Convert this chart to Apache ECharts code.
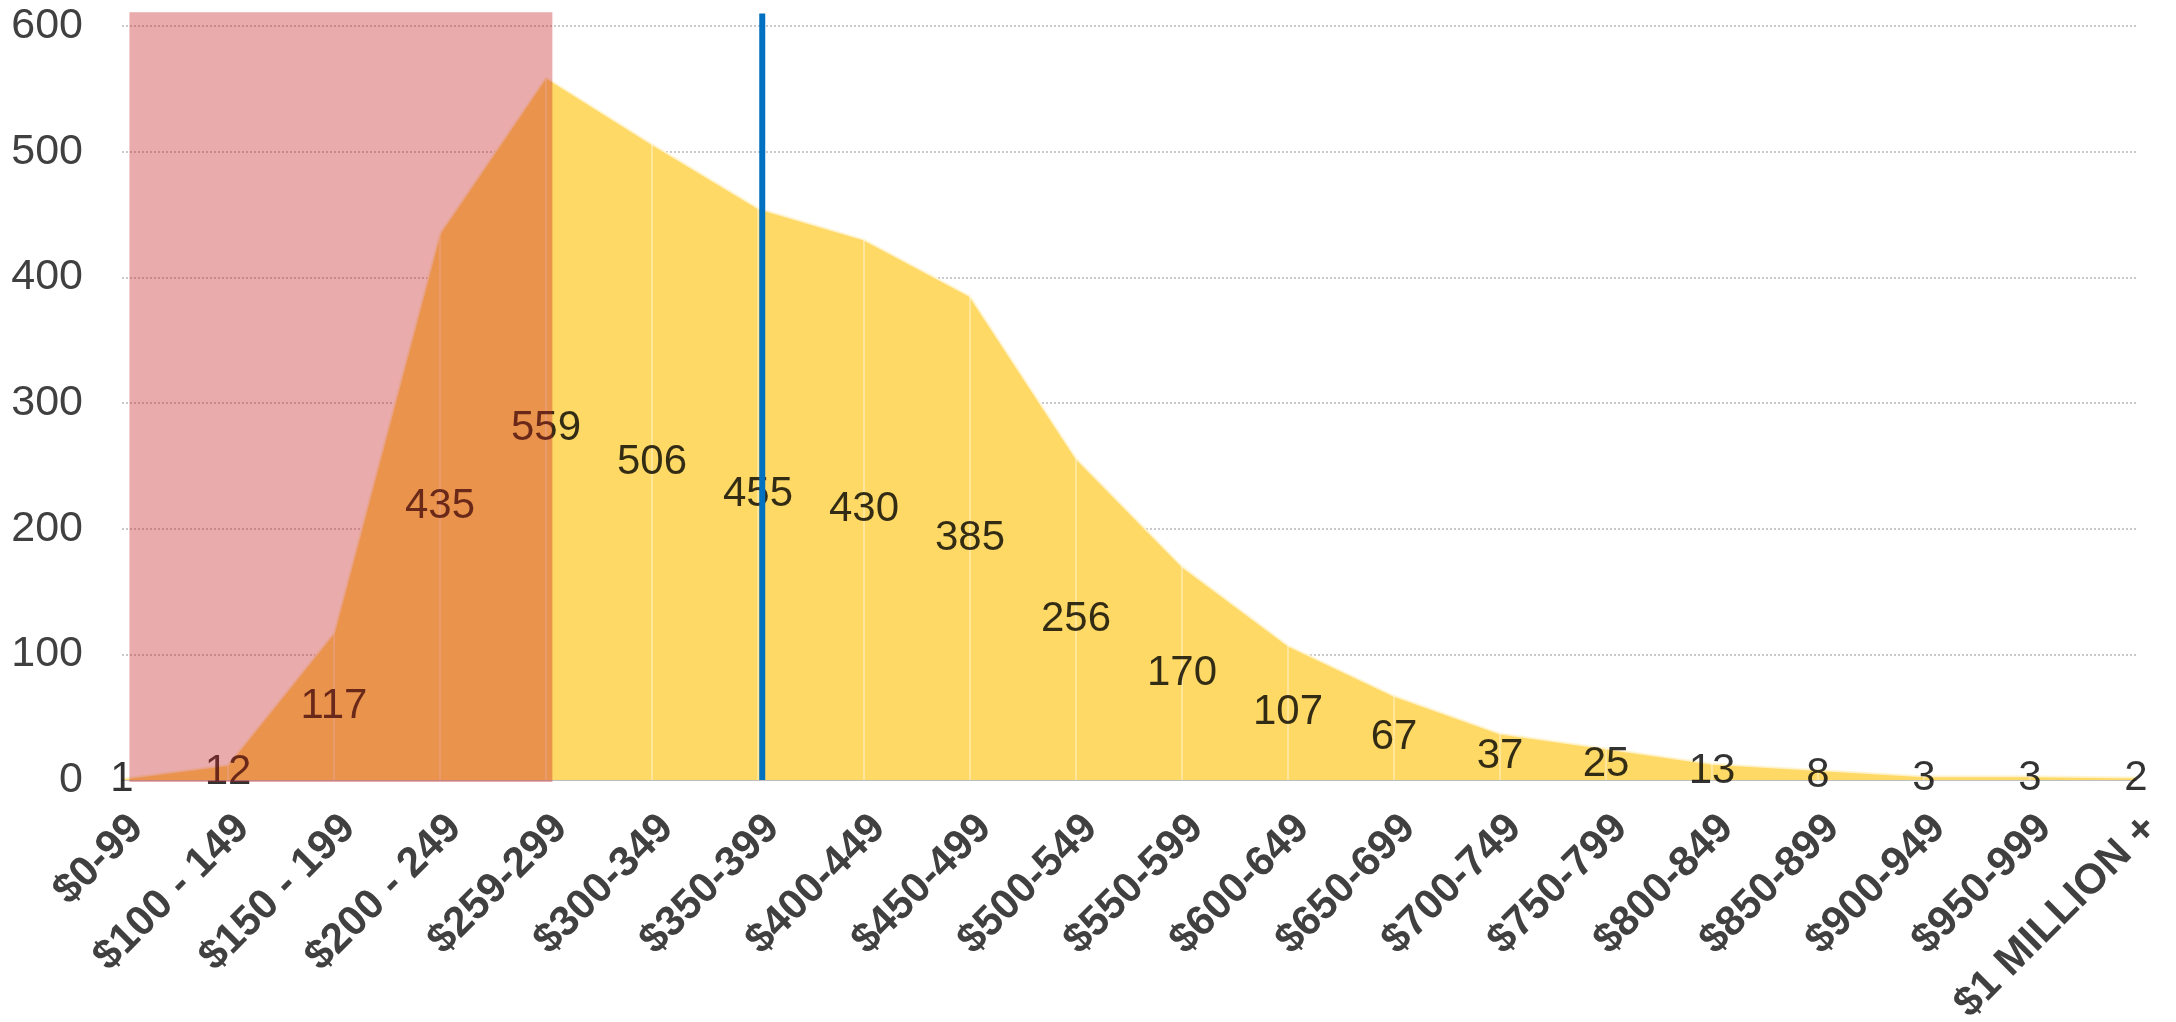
<!DOCTYPE html>
<html>
<head>
<meta charset="utf-8">
<script src="https://cdn.jsdelivr.net/npm/echarts@6/dist/echarts.min.js"></script>
<style>
  html, body { margin: 0; padding: 0; background: #fff; }
  #chart { width: 2176px; height: 1022px; }
</style>
</head>
<body>
<div id="chart"></div>
<script>
// Price bands (category axis)
const categories = [
  '$0-99', '$100 - 149', '$150 - 199', '$200 - 249', '$259-299',
  '$300-349', '$350-399', '$400-449', '$450-499', '$500-549',
  '$550-599', '$600-649', '$650-699', '$700-749', '$750-799',
  '$800-849', '$850-899', '$900-949', '$950-999', '$1 MILLION +'
];

// Number of listings in each band
const counts = [1, 12, 117, 435, 559, 506, 455, 430, 385, 256, 170, 107, 67, 37, 25, 13, 8, 3, 3, 2];

// Y axis ticks
const yTicks = [0, 100, 200, 300, 400, 500, 600];

// Shaded band (in category-index units) and the marker line position
const shadedBand = [0.07, 4.06];
const shadedTop = 611;
const markerAt = 6.04;
const markerTop = 610;

const FONT = 'Liberation Sans, Arial, sans-serif';

const chart = echarts.init(document.getElementById('chart'), null, { renderer: 'canvas' });

chart.setOption({
  animation: false,
  backgroundColor: '#ffffff',
  grid: {
    left: 122, right: 40, top: 26, bottom: 242,
    containLabel: false,
    outerBoundsMode: 'none'
  },
  xAxis: [
    {
      type: 'category',
      data: categories,
      boundaryGap: false,
      axisLine: { show: true, lineStyle: { color: '#BFBFBF', width: 2 } },
      axisTick: { show: false },
      splitLine: { show: false },
      axisLabel: {
        interval: 0,
        rotate: 45,
        margin: 27,
        align: 'right',
        verticalAlign: 'top',
        color: '#404040',
        fontFamily: FONT,
        fontWeight: 'bold',
        fontSize: 42
      }
    },
    {
      // helper axis for the overlay band and marker line
      type: 'value',
      min: 0,
      max: categories.length - 1,
      show: false
    }
  ],
  yAxis: {
    type: 'value',
    min: yTicks[0],
    max: yTicks[yTicks.length - 1],
    interval: 100,
    axisLine: { show: false },
    axisTick: { show: false },
    axisLabel: {
      margin: 39,
      color: '#404040',
      fontFamily: FONT,
      fontSize: 43
    },
    splitLine: {
      show: true,
      lineStyle: { color: '#B8B8B8', width: 1.5, type: [2, 2] }
    }
  },
  series: [
    {
      name: 'Listings',
      type: 'line',
      data: counts,
      symbol: 'none',
      z: 2,
      lineStyle: { color: 'rgba(255,244,210,0.9)', width: 2 },
      areaStyle: { color: '#FFD966', opacity: 1 }
    },
    {
      // pale drop lines at each band
      type: 'bar',
      data: counts,
      barWidth: 2,
      z: 3,
      itemStyle: { color: 'rgba(255,255,255,0.35)' },
      silent: true
    },
    {
      // value labels, centred at half height of each point
      type: 'scatter',
      data: counts.map((v, i) => [i, v / 2]),
      symbolSize: 1,
      itemStyle: { color: 'rgba(0,0,0,0)' },
      z: 4,
      label: {
        show: true,
        position: 'inside',
        formatter: p => String(counts[p.dataIndex]),
        color: '#000000',
        fontFamily: FONT,
        fontSize: 42
      },
      silent: true
    },
    {
      // vertical marker
      type: 'line',
      xAxisIndex: 1,
      data: [[markerAt, 0], [markerAt, markerTop]],
      symbol: 'none',
      clip: false,
      z: 5,
      lineStyle: { color: '#0070C0', width: 6 },
      silent: true
    },
    {
      // translucent shaded band over the low price bands
      type: 'custom',
      xAxisIndex: 1,
      z: 6,
      clip: false,
      silent: true,
      encode: { x: [0, 1], y: [2, 3] },
      data: [[shadedBand[0], shadedBand[1], -1.5, shadedTop]],
      renderItem: (params, api) => {
        const p0 = api.coord([api.value(0), api.value(3)]);
        const p1 = api.coord([api.value(1), api.value(2)]);
        return {
          type: 'rect',
          shape: { x: p0[0], y: p0[1], width: p1[0] - p0[0], height: p1[1] - p0[1] },
          style: { fill: 'rgba(197,35,35,0.38)' }
        };
      }
    }
  ]
});
</script>
</body>
</html>
